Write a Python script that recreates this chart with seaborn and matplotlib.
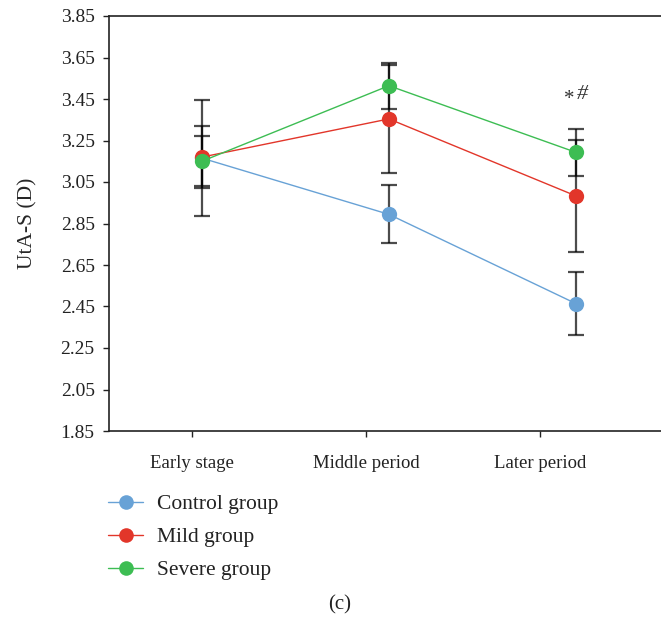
import matplotlib
matplotlib.use("Agg")
import matplotlib.pyplot as plt
import seaborn as sns
import pandas as pd

# Stages and group measurements (mean ± SD)
stages = ["Early stage", "Middle period", "Later period"]
groups = ["Control group", "Mild group", "Severe group"]
control_mean = [3.165, 2.894, 2.464]
control_sd = [0.28, 0.14, 0.15]
mild_mean = [3.17, 3.354, 2.983]
mild_sd = [0.15, 0.26, 0.27]
severe_mean = [3.15, 3.514, 3.193]
severe_sd = [0.12, 0.11, 0.113]
yticks = [1.85, 2.05, 2.25, 2.45, 2.65, 2.85, 3.05, 3.25, 3.45, 3.65, 3.85]

colors = {"Control group": "#68a2d6", "Mild group": "#e2362a", "Severe group": "#3dbd53"}

means = {"Control group": control_mean, "Mild group": mild_mean, "Severe group": severe_mean}
sds = {"Control group": control_sd, "Mild group": mild_sd, "Severe group": severe_sd}

rows = []
for g in groups:
    for i, s in enumerate(stages):
        rows.append({"stage_idx": i, "stage": s, "group": g,
                     "value": means[g][i], "sd": sds[g][i]})
df = pd.DataFrame(rows)

sns.set_style("ticks")
plt.rcParams["font.family"] = ["Liberation Serif", "DejaVu Serif"]

fig = plt.figure(figsize=(6.61, 6.18), dpi=100)
ax = fig.add_axes([109 / 661, 1 - 431 / 618, 1 - 109 / 661, (431 - 16) / 618])

# error bars beneath the markers
for g in groups:
    sub = df[df.group == g]
    ax.errorbar(sub.stage_idx, sub.value, yerr=sub.sd, fmt="none",
                ecolor="black", alpha=0.7, elinewidth=1.6, capsize=6,
                capthick=1.6, zorder=2)

sns.lineplot(data=df, x="stage_idx", y="value", hue="group", hue_order=groups,
             palette=colors, marker="o", markersize=11, markeredgewidth=0,
             linewidth=1.0, ax=ax, legend=False, zorder=3)

ax.set_xlim(-0.497, 2.455)
ax.set_ylim(1.85, 3.85)
ax.set_yticks(yticks)
ax.set_yticklabels([f"{v:.2f}" for v in yticks])
tick_pos = [-0.053, 0.877, 1.807]
ax.set_xticks(tick_pos)
ax.set_xticklabels(stages)
ax.set_xlabel("")
ax.set_ylabel("UtA-S (D)", fontsize=15.5, labelpad=16.5)

for side in ["left", "bottom", "top"]:
    ax.spines[side].set_visible(True)
    ax.spines[side].set_color("#222222")
    ax.spines[side].set_linewidth(1.2)
ax.spines["right"].set_visible(False)
ax.tick_params(axis="both", direction="out", length=4.3, width=1.0,
               color="#222222", labelcolor="#222222")
ax.tick_params(axis="y", labelsize=14, pad=6)
ax.tick_params(axis="x", labelsize=13.5, pad=13)

# significance marks above the later-period severe group
ax.text(1.963, 3.45, "*", fontsize=15, ha="center", va="center", color="#333333")
ax.text(2.032, 3.47, "#", fontsize=16, style="italic", ha="center", va="center",
        color="#333333")

# legend below the plot
handles = [plt.Line2D([], [], color=colors[g], marker="o", markersize=10.5,
                      markeredgewidth=0, linewidth=1.0) for g in groups]
fig.legend(handles, groups, loc="upper left", bbox_to_anchor=(108 / 661, 1 - 494 / 618),
           frameon=False, fontsize=15.5, handlelength=1.63, handletextpad=0.65,
           labelspacing=0.6, borderpad=0, borderaxespad=0, labelcolor="#222222")

fig.text(340 / 661, 1 - 605 / 618, "(c)", fontsize=15, ha="center", va="center",
         color="#222222")

fig.savefig("out.png", dpi=100)
